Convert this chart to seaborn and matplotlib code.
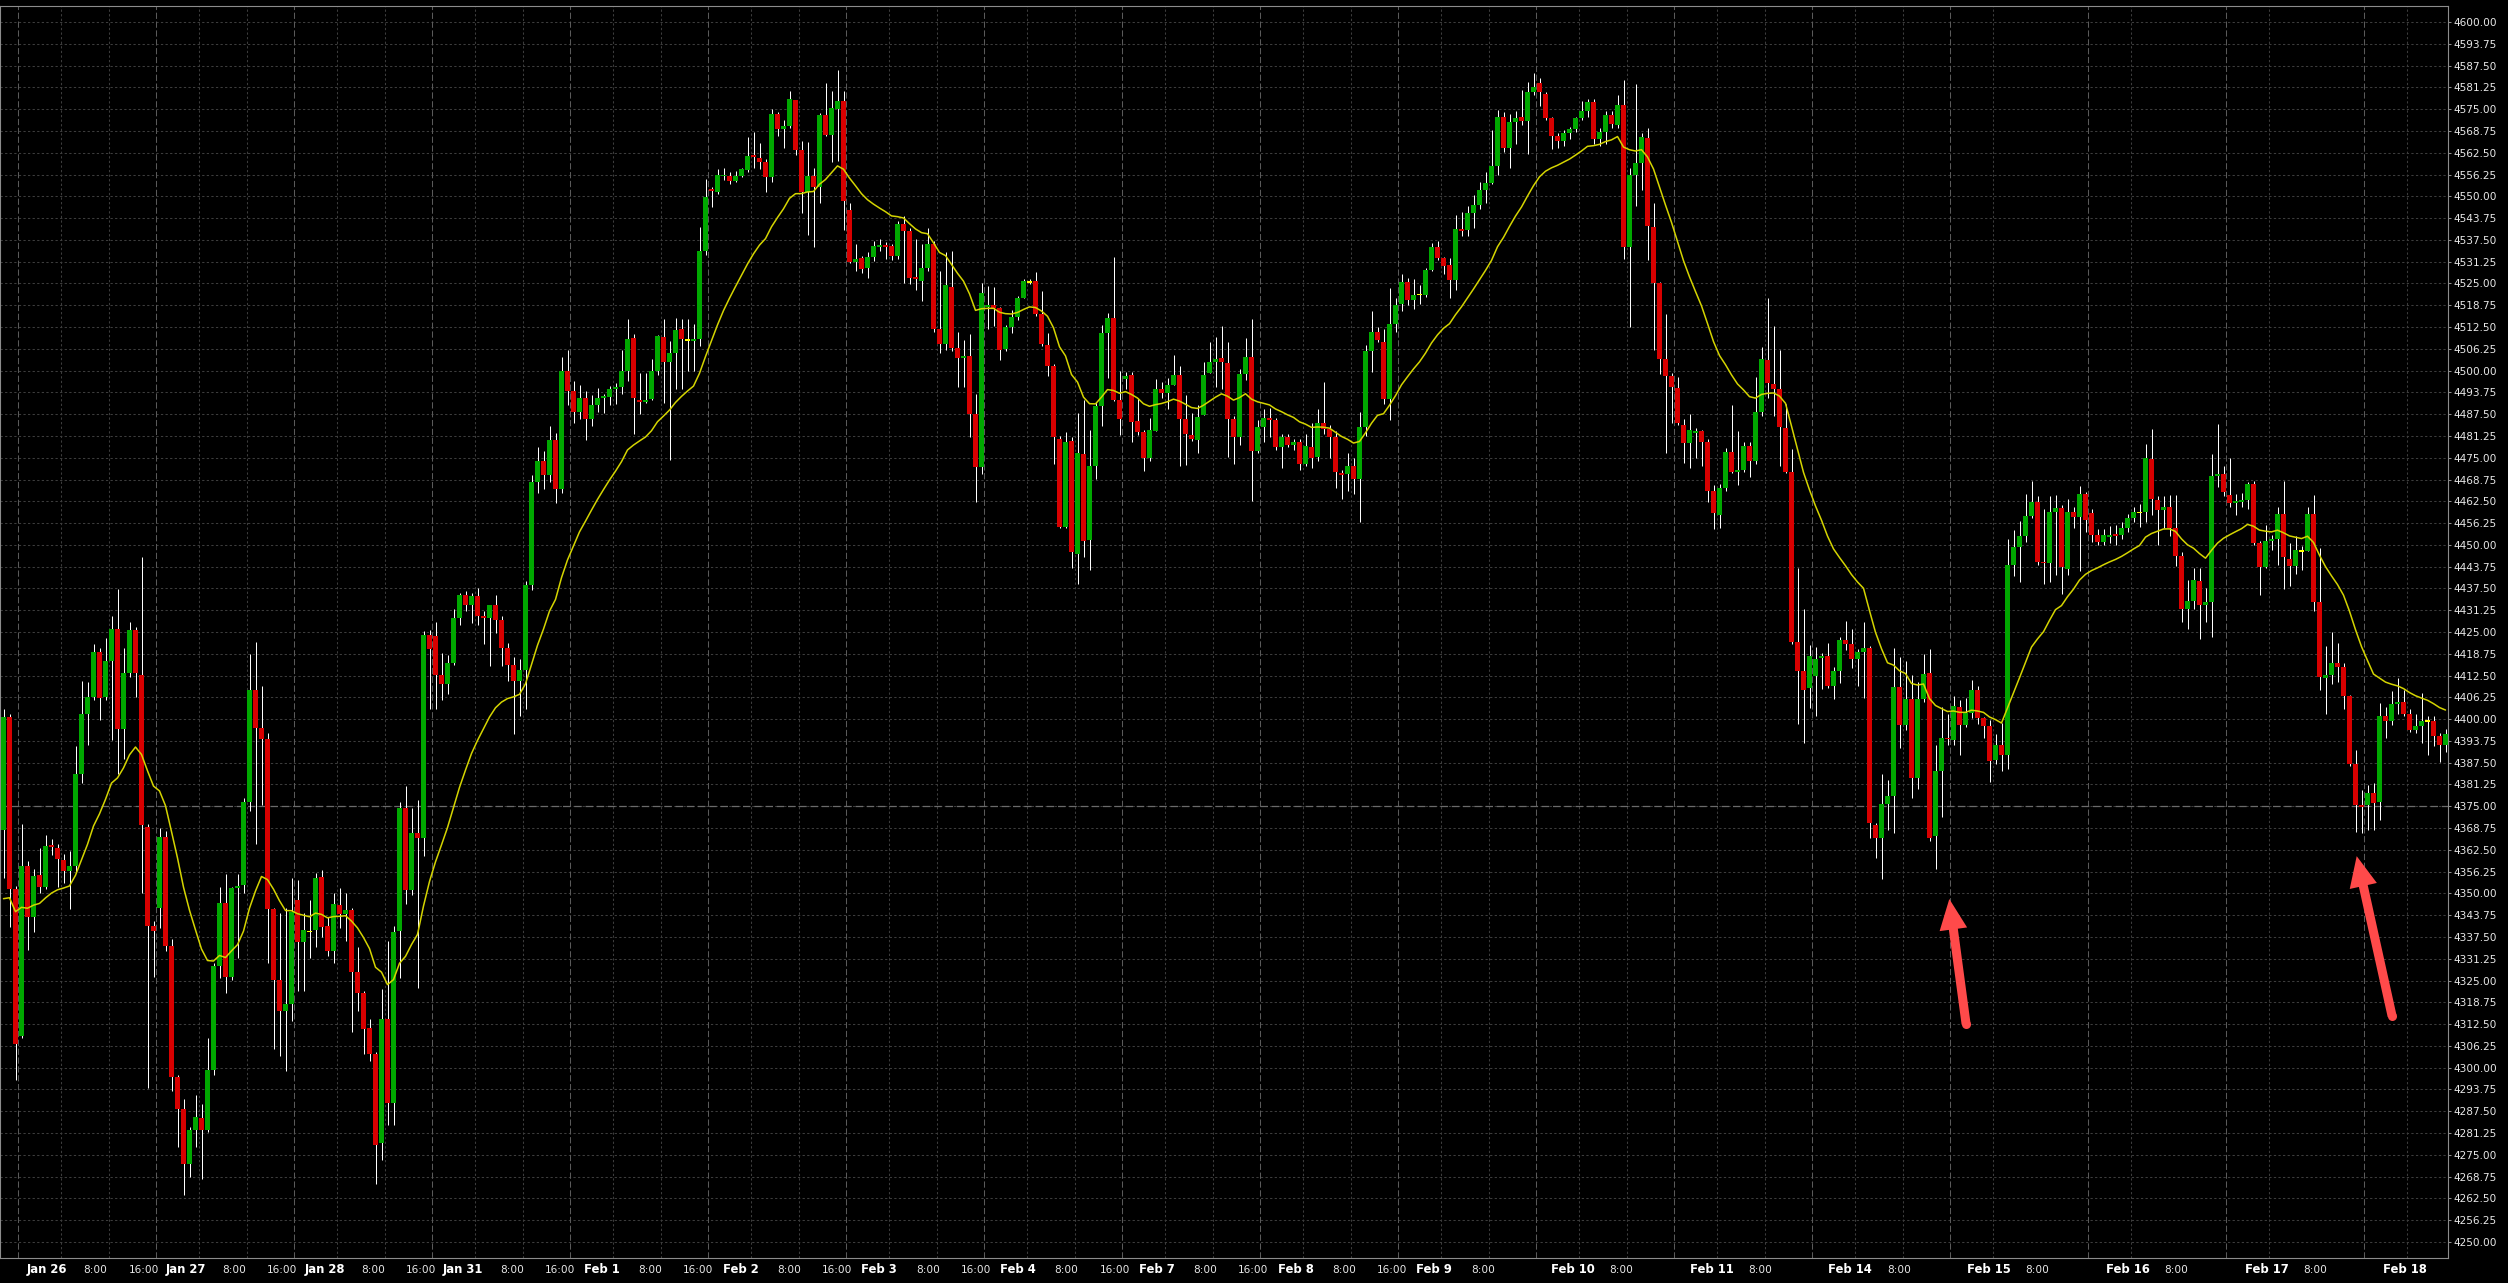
import matplotlib
matplotlib.use("Agg")
import matplotlib.pyplot as plt
import numpy as np
import pandas as pd
import seaborn as sns
from matplotlib.patches import FancyArrowPatch

# hourly candles (open / high / low / close)
opens = [
    4368.3, 4400.7, 4351.3, 4309.2, 4357.9, 4343.2, 4355.4, 4351.9, 4363.7, 4363.1,
    4359.6, 4356.3, 4357.9, 4384.2, 4401.6, 4406.4, 4419.3, 4406.4, 4416.6, 4425.9,
    4397.1, 4413.2, 4425.5, 4412.8, 4369.1, 4340.7, 4345.7, 4366.2, 4334.8, 4297.2,
    4288.2, 4272.3, 4282.2, 4285.6, 4282.0, 4299.4, 4329.3, 4347.2, 4326.0, 4351.6,
    4352.5, 4376.2, 4408.4, 4397.5, 4394.4, 4345.4, 4325.2, 4316.4, 4318.3, 4348.2,
    4336.0, 4339.1, 4339.5, 4354.6, 4340.7, 4333.5, 4346.7, 4344.2, 4345.3, 4327.4,
    4321.4, 4311.5, 4304.0, 4278.3, 4314.0, 4290.0, 4339.2, 4374.5, 4350.9, 4367.2,
    4365.8, 4424.0, 4423.8, 4412.6, 4410.1, 4416.0, 4429.0, 4435.5, 4432.7, 4435.2,
    4429.5, 4429.0, 4432.7, 4428.4, 4420.3, 4415.6, 4411.0, 4414.1, 4438.6, 4468.0,
    4474.0, 4470.0, 4480.0, 4466.0, 4500.0, 4494.0, 4488.0, 4492.0, 4486.0, 4490.0,
    4492.2, 4492.4, 4494.7, 4495.2, 4499.8, 4509.4, 4491.7, 4491.0, 4491.9, 4499.8,
    4509.6, 4502.4, 4505.0, 4511.8, 4508.8, 4508.6, 4509.1, 4534.2, 4552.0, 4551.1,
    4555.7, 4555.9, 4554.5, 4555.9, 4557.5, 4561.8, 4561.0, 4559.8, 4555.5, 4573.5,
    4569.2, 4570.2, 4577.6, 4563.4, 4551.1, 4555.7, 4552.6, 4573.3, 4567.6, 4575.0,
    4577.4, 4546.0, 4531.1, 4532.4, 4529.3, 4532.6, 4535.4, 4536.0, 4535.7, 4532.9,
    4542.1, 4540.1, 4526.8, 4525.6, 4529.3, 4536.2, 4512.0, 4507.5, 4524.1, 4506.5,
    4503.7, 4504.2, 4487.4, 4472.2, 4518.3, 4518.8, 4518.0, 4506.3, 4512.5, 4515.3,
    4520.9, 4525.4, 4525.6, 4516.2, 4507.3, 4501.2, 4480.4, 4455.1, 4479.7, 4447.5,
    4476.0, 4451.4, 4472.5, 4489.9, 4510.9, 4515.1, 4491.7, 4497.5, 4498.7, 4485.5,
    4482.4, 4474.8, 4482.7, 4494.7, 4493.7, 4496.0, 4498.7, 4486.0, 4481.6, 4480.2,
    4487.2, 4499.3, 4502.4, 4503.6, 4502.2, 4486.0, 4480.8, 4499.0, 4503.9, 4477.0,
    4483.9, 4486.5, 4485.7, 4478.0, 4480.8, 4478.7, 4479.5, 4473.3, 4478.0, 4475.2,
    4485.0, 4483.1, 4480.8, 4470.5, 4470.2, 4472.5, 4469.0, 4483.9, 4505.6, 4511.1,
    4508.3, 4491.9, 4513.4, 4519.2, 4525.4, 4520.3, 4521.8, 4521.8, 4528.8, 4535.5,
    4532.4, 4530.3, 4525.9, 4540.5, 4540.2, 4545.1, 4547.6, 4551.7, 4553.8, 4558.8,
    4572.8, 4563.8, 4571.3, 4572.8, 4571.6, 4579.8, 4582.5, 4579.3, 4572.4, 4567.4,
    4565.8, 4568.2, 4569.2, 4572.5, 4574.4, 4577.0, 4566.3, 4568.5, 4573.3, 4570.5,
    4576.2, 4535.5, 4556.0, 4559.6, 4566.6, 4541.2, 4525.1, 4503.3, 4498.5, 4495.1,
    4484.5, 4479.2, 4482.3, 4482.6, 4479.5, 4465.5, 4458.5, 4466.3, 4476.7, 4471.0,
    4471.4, 4478.3, 4474.1, 4488.1, 4503.1, 4496.1, 4494.8, 4483.4, 4471.0, 4422.0,
    4413.7, 4408.8, 4412.3, 4417.6, 4418.1, 4409.5, 4413.9, 4422.8, 4421.5, 4417.3,
    4419.2, 4420.4, 4369.6, 4365.8, 4375.6, 4378.0, 4409.1, 4398.3, 4405.7, 4383.0,
    4405.7, 4413.2, 4366.4, 4385.0, 4394.7, 4394.0, 4403.5, 4398.3, 4401.9, 4408.4,
    4400.2, 4398.1, 4388.3, 4392.7, 4389.6, 4444.2, 4449.4, 4452.4, 4458.3, 4462.4,
    4445.2, 4444.9, 4459.3, 4460.6, 4443.2, 4459.3, 4458.0, 4464.6, 4459.0, 4452.8,
    4450.8, 4452.4, 4453.1, 4452.8, 4454.9, 4457.6, 4459.3, 4459.3, 4474.7, 4462.9,
    4460.0, 4460.8, 4454.9, 4446.7, 4431.6, 4433.9, 4439.5, 4432.7, 4433.7, 4469.8,
    4470.2, 4464.4, 4462.1, 4462.4, 4462.9, 4467.5, 4450.4, 4443.6, 4451.1, 4451.8,
    4458.8, 4446.0, 4443.9, 4448.3, 4448.3, 4458.8, 4433.7, 4411.9, 4412.7, 4416.0,
    4414.9, 4406.5, 4387.1, 4375.3, 4375.3, 4378.9, 4376.3, 4400.9, 4399.6, 4404.3,
    4405.0, 4401.4, 4396.8, 4398.1, 4399.4, 4399.6, 4395.3, 4392.7,
]
highs = [
    4402.9, 4401.6, 4352.0, 4369.9, 4359.4, 4356.9, 4363.1, 4366.8, 4365.6, 4364.3,
    4361.2, 4362.1, 4392.3, 4411.0, 4410.6, 4421.5, 4420.3, 4423.4, 4429.6, 4437.3,
    4420.3, 4427.8, 4426.5, 4446.4, 4369.9, 4342.0, 4368.7, 4368.0, 4337.0, 4297.8,
    4291.0, 4282.9, 4292.2, 4289.7, 4308.6, 4330.1, 4351.9, 4355.6, 4351.9, 4355.6,
    4377.4, 4418.8, 4422.2, 4409.4, 4396.0, 4345.7, 4344.4, 4345.7, 4354.4, 4353.8,
    4344.4, 4348.2, 4355.9, 4356.6, 4343.2, 4350.0, 4351.6, 4350.0, 4345.9, 4334.5,
    4322.0, 4314.0, 4304.6, 4322.7, 4336.4, 4340.7, 4376.2, 4380.8, 4374.5, 4376.8,
    4425.3, 4425.5, 4427.8, 4419.1, 4418.4, 4431.7, 4436.2, 4436.7, 4436.2, 4437.7,
    4430.9, 4432.7, 4435.5, 4429.6, 4421.9, 4417.8, 4417.2, 4439.6, 4470.0, 4478.0,
    4477.0, 4484.0, 4482.0, 4504.0, 4506.0, 4497.0, 4496.0, 4494.0, 4493.0, 4495.0,
    4493.2, 4495.7, 4496.5, 4506.0, 4514.7, 4510.6, 4499.3, 4499.3, 4503.4, 4510.1,
    4514.9, 4508.6, 4515.2, 4514.7, 4514.9, 4513.5, 4541.1, 4554.9, 4552.6, 4557.7,
    4558.2, 4556.9, 4557.2, 4558.2, 4567.0, 4568.5, 4565.4, 4560.8, 4575.0, 4574.3,
    4571.9, 4580.3, 4577.6, 4565.9, 4565.7, 4558.2, 4573.9, 4582.5, 4580.1, 4586.2,
    4580.3, 4548.2, 4536.2, 4532.9, 4533.9, 4537.2, 4537.8, 4537.0, 4536.4, 4542.9,
    4544.4, 4540.8, 4537.8, 4536.2, 4540.8, 4537.2, 4528.5, 4534.0, 4534.4, 4511.0,
    4508.8, 4510.6, 4493.2, 4525.0, 4524.4, 4524.1, 4518.3, 4513.2, 4517.3, 4521.4,
    4526.2, 4526.3, 4528.2, 4522.9, 4510.8, 4501.9, 4481.1, 4482.4, 4480.9, 4487.9,
    4491.7, 4482.9, 4491.1, 4513.2, 4516.5, 4532.6, 4499.8, 4499.5, 4499.5, 4492.1,
    4482.9, 4486.5, 4497.5, 4496.8, 4497.8, 4504.5, 4501.4, 4493.0, 4487.8, 4490.1,
    4502.4, 4508.1, 4509.6, 4512.9, 4508.1, 4487.0, 4500.5, 4509.4, 4514.8, 4485.7,
    4488.9, 4489.2, 4486.5, 4481.9, 4481.9, 4480.3, 4480.3, 4481.9, 4485.0, 4488.9,
    4496.6, 4484.5, 4482.6, 4471.4, 4476.4, 4474.9, 4488.1, 4507.2, 4517.1, 4512.5,
    4511.9, 4523.8, 4520.7, 4527.7, 4526.5, 4526.2, 4524.6, 4529.3, 4536.7, 4537.1,
    4532.7, 4532.4, 4544.5, 4545.6, 4547.2, 4550.3, 4554.2, 4557.0, 4568.9, 4574.7,
    4574.1, 4573.6, 4574.4, 4580.6, 4582.9, 4585.3, 4584.0, 4579.8, 4572.8, 4568.2,
    4568.9, 4570.0, 4572.8, 4577.2, 4577.8, 4577.8, 4569.7, 4574.4, 4574.4, 4579.0,
    4583.4, 4558.0, 4582.2, 4568.2, 4569.7, 4548.2, 4525.4, 4516.1, 4499.4, 4498.2,
    4486.0, 4487.6, 4483.4, 4482.9, 4480.3, 4467.1, 4467.4, 4477.9, 4490.1, 4482.6,
    4479.5, 4479.5, 4498.2, 4506.7, 4520.7, 4512.9, 4505.9, 4490.4, 4477.6, 4443.4,
    4431.6, 4421.2, 4420.7, 4418.9, 4421.9, 4415.0, 4423.5, 4428.2, 4426.0, 4420.0,
    4428.0, 4421.0, 4370.1, 4384.4, 4382.4, 4420.4, 4417.8, 4416.6, 4412.7, 4410.6,
    4418.8, 4420.1, 4392.7, 4403.5, 4401.4, 4406.5, 4405.5, 4406.0, 4411.1, 4409.4,
    4400.6, 4399.8, 4395.8, 4398.9, 4451.8, 4454.2, 4456.9, 4464.7, 4468.2, 4464.1,
    4460.4, 4463.9, 4464.4, 4461.3, 4463.1, 4460.8, 4467.0, 4465.1, 4460.3, 4454.5,
    4454.5, 4455.5, 4455.7, 4456.5, 4458.8, 4460.8, 4461.8, 4478.8, 4483.2, 4463.9,
    4463.9, 4464.4, 4464.4, 4448.0, 4439.8, 4443.4, 4443.4, 4437.7, 4476.2, 4484.6,
    4472.6, 4474.9, 4464.7, 4464.9, 4468.0, 4468.2, 4451.1, 4455.7, 4452.8, 4460.8,
    4468.2, 4450.6, 4452.6, 4449.6, 4461.0, 4464.4, 4449.0, 4421.1, 4424.9, 4421.9,
    4416.2, 4407.0, 4391.1, 4379.6, 4381.1, 4381.7, 4404.5, 4403.5, 4408.1, 4411.8,
    4408.4, 4402.9, 4401.4, 4407.6, 4401.0, 4400.9, 4395.9, 4397.2,
]
lows = [
    4354.4, 4340.3, 4296.5, 4308.6, 4333.9, 4338.8, 4350.0, 4351.3, 4361.0, 4351.9,
    4353.1, 4345.4, 4356.0, 4381.7, 4392.7, 4405.4, 4399.8, 4405.6, 4394.0, 4384.2,
    4388.6, 4412.0, 4406.4, 4350.0, 4294.3, 4326.0, 4340.0, 4333.5, 4293.2, 4277.3,
    4263.6, 4268.6, 4277.3, 4268.0, 4281.6, 4297.8, 4325.8, 4321.4, 4325.1, 4331.4,
    4350.0, 4373.7, 4364.3, 4375.5, 4330.1, 4305.3, 4303.4, 4299.0, 4313.4, 4322.0,
    4322.0, 4331.4, 4334.5, 4337.6, 4332.0, 4330.1, 4340.0, 4336.4, 4310.2, 4316.4,
    4304.0, 4302.0, 4266.7, 4273.5, 4283.5, 4283.5, 4325.8, 4346.9, 4349.6, 4322.9,
    4360.8, 4402.9, 4402.9, 4405.4, 4407.2, 4415.6, 4427.1, 4430.9, 4427.5, 4427.1,
    4421.5, 4415.3, 4424.7, 4415.3, 4411.0, 4395.7, 4401.0, 4402.9, 4437.0, 4465.0,
    4466.0, 4468.0, 4462.0, 4465.0, 4490.0, 4485.0, 4486.0, 4480.0, 4484.0, 4488.0,
    4487.9, 4490.1, 4490.5, 4493.2, 4497.0, 4481.9, 4487.6, 4490.6, 4491.7, 4498.8,
    4490.6, 4474.3, 4494.7, 4494.7, 4499.8, 4499.8, 4507.0, 4533.2, 4547.0, 4550.6,
    4554.7, 4553.5, 4554.2, 4555.5, 4556.9, 4558.0, 4557.7, 4551.1, 4554.2, 4567.2,
    4563.9, 4569.5, 4561.8, 4545.2, 4538.8, 4535.4, 4548.0, 4567.2, 4559.8, 4560.0,
    4540.3, 4530.9, 4528.5, 4528.0, 4526.5, 4531.3, 4534.2, 4532.1, 4531.6, 4532.1,
    4525.0, 4524.7, 4523.1, 4520.0, 4528.5, 4511.1, 4505.0, 4506.0, 4505.5, 4495.2,
    4495.4, 4480.9, 4462.3, 4470.4, 4511.8, 4512.7, 4502.9, 4505.5, 4510.8, 4514.5,
    4520.7, 4524.8, 4515.7, 4507.0, 4498.3, 4473.2, 4454.8, 4454.8, 4443.5, 4438.9,
    4446.6, 4442.8, 4468.8, 4484.0, 4497.8, 4491.2, 4481.4, 4494.7, 4479.4, 4481.4,
    4471.2, 4474.2, 4482.7, 4492.2, 4489.1, 4495.9, 4472.7, 4472.9, 4479.9, 4476.3,
    4487.2, 4499.3, 4495.2, 4494.7, 4475.3, 4473.2, 4478.7, 4497.4, 4462.7, 4476.4,
    4479.5, 4480.8, 4477.2, 4472.0, 4478.0, 4477.2, 4471.4, 4472.5, 4472.0, 4474.1,
    4481.9, 4474.9, 4466.3, 4463.2, 4465.5, 4464.7, 4456.5, 4481.1, 4499.7, 4508.3,
    4490.4, 4485.7, 4511.0, 4517.2, 4518.7, 4517.6, 4519.2, 4521.2, 4528.5, 4531.6,
    4527.7, 4520.7, 4523.1, 4538.6, 4538.6, 4541.0, 4546.4, 4548.2, 4553.4, 4556.0,
    4562.7, 4558.0, 4565.0, 4570.5, 4562.2, 4579.0, 4575.9, 4572.0, 4563.5, 4563.8,
    4564.3, 4566.3, 4568.5, 4572.0, 4572.8, 4565.0, 4564.3, 4565.0, 4569.7, 4569.7,
    4532.1, 4512.5, 4547.2, 4551.8, 4531.6, 4505.9, 4499.0, 4476.4, 4485.0, 4484.5,
    4473.6, 4472.0, 4474.9, 4472.5, 4462.4, 4454.6, 4454.9, 4465.5, 4470.5, 4467.1,
    4471.0, 4469.4, 4473.3, 4487.0, 4492.0, 4487.0, 4472.5, 4470.5, 4421.5, 4398.7,
    4393.2, 4403.3, 4401.0, 4408.6, 4408.8, 4405.7, 4410.3, 4419.7, 4414.7, 4409.6,
    4406.0, 4366.0, 4360.3, 4354.0, 4368.1, 4367.4, 4391.7, 4397.0, 4377.4, 4380.1,
    4404.8, 4365.1, 4357.1, 4372.0, 4392.7, 4392.7, 4389.6, 4397.7, 4400.4, 4398.5,
    4394.7, 4381.9, 4387.0, 4385.0, 4385.8, 4441.2, 4439.3, 4450.8, 4457.6, 4444.2,
    4438.8, 4439.3, 4441.4, 4436.0, 4441.4, 4454.7, 4442.4, 4453.7, 4450.8, 4450.1,
    4450.1, 4450.4, 4450.1, 4451.8, 4453.7, 4456.7, 4455.2, 4456.5, 4458.6, 4450.1,
    4454.7, 4452.6, 4443.9, 4428.0, 4426.0, 4431.6, 4422.9, 4428.0, 4423.7, 4466.5,
    4463.9, 4460.8, 4458.6, 4460.8, 4460.3, 4450.1, 4435.7, 4443.4, 4448.5, 4444.2,
    4437.3, 4438.3, 4441.6, 4442.9, 4448.1, 4431.1, 4408.4, 4401.4, 4410.1, 4410.6,
    4402.9, 4386.6, 4367.7, 4367.4, 4368.3, 4368.3, 4371.0, 4394.5, 4398.3, 4401.4,
    4400.9, 4396.3, 4396.1, 4393.2, 4389.6, 4392.4, 4387.6, 4390.6,
]
closes = [
    4400.7, 4351.3, 4306.8, 4357.9, 4343.2, 4355.0, 4351.9, 4363.7, 4363.3, 4360.0,
    4356.3, 4357.9, 4384.2, 4401.6, 4406.4, 4419.3, 4406.0, 4416.6, 4425.9, 4397.3,
    4413.2, 4425.5, 4413.2, 4369.6, 4340.7, 4339.1, 4366.2, 4334.8, 4297.2, 4288.2,
    4272.3, 4282.2, 4286.0, 4282.0, 4299.4, 4329.3, 4347.3, 4326.0, 4351.6, 4352.1,
    4376.2, 4408.4, 4397.5, 4394.4, 4345.4, 4325.2, 4316.4, 4318.3, 4344.7, 4336.0,
    4339.5, 4339.1, 4354.4, 4340.5, 4333.5, 4346.9, 4344.2, 4345.3, 4327.4, 4321.4,
    4311.2, 4304.0, 4277.9, 4314.0, 4290.0, 4338.8, 4374.5, 4350.9, 4367.4, 4365.8,
    4424.0, 4420.1, 4412.8, 4410.1, 4416.0, 4429.0, 4435.5, 4432.7, 4435.2, 4429.6,
    4429.0, 4432.7, 4428.4, 4420.3, 4415.6, 4411.0, 4414.1, 4438.6, 4468.0, 4474.0,
    4470.0, 4480.0, 4466.0, 4500.0, 4494.0, 4488.0, 4492.0, 4486.0, 4490.0, 4492.2,
    4492.7, 4494.7, 4495.2, 4499.8, 4509.1, 4492.0, 4491.0, 4491.7, 4499.8, 4509.9,
    4502.4, 4505.0, 4511.6, 4509.1, 4508.8, 4509.0, 4534.2, 4549.7, 4551.6, 4556.2,
    4556.2, 4554.5, 4555.9, 4557.7, 4561.6, 4561.2, 4559.8, 4555.5, 4573.5, 4569.2,
    4570.2, 4577.9, 4563.4, 4551.1, 4555.7, 4552.6, 4573.3, 4567.6, 4575.2, 4577.4,
    4548.7, 4531.1, 4532.1, 4529.1, 4532.6, 4535.7, 4536.0, 4535.6, 4532.9, 4542.1,
    4540.1, 4526.7, 4526.3, 4529.5, 4536.2, 4512.0, 4507.5, 4524.5, 4506.5, 4503.7,
    4504.2, 4487.4, 4472.2, 4522.3, 4518.8, 4518.0, 4506.0, 4512.5, 4515.3, 4520.9,
    4525.6, 4525.4, 4516.2, 4507.7, 4501.2, 4480.9, 4455.1, 4479.4, 4447.9, 4476.3,
    4451.2, 4472.7, 4489.9, 4510.9, 4515.1, 4491.7, 4486.0, 4498.5, 4485.3, 4482.4,
    4474.8, 4482.9, 4494.7, 4493.7, 4496.0, 4498.7, 4486.0, 4481.7, 4480.4, 4486.7,
    4498.8, 4502.4, 4503.2, 4502.4, 4486.2, 4480.9, 4499.0, 4503.9, 4477.0, 4483.9,
    4486.5, 4485.7, 4478.0, 4480.8, 4478.7, 4479.5, 4473.3, 4478.3, 4474.9, 4485.0,
    4483.1, 4480.8, 4471.0, 4469.9, 4472.5, 4469.0, 4483.9, 4505.6, 4511.1, 4508.8,
    4491.9, 4513.4, 4518.7, 4525.4, 4520.3, 4521.8, 4521.8, 4528.8, 4535.5, 4532.4,
    4530.1, 4525.9, 4540.5, 4539.9, 4545.1, 4547.6, 4551.7, 4553.8, 4558.8, 4572.8,
    4563.8, 4571.3, 4572.5, 4571.6, 4579.8, 4581.4, 4579.8, 4572.4, 4567.4, 4565.8,
    4568.2, 4569.2, 4572.5, 4574.4, 4577.0, 4566.3, 4568.5, 4573.3, 4570.8, 4576.2,
    4535.5, 4556.0, 4559.6, 4566.9, 4541.4, 4525.1, 4503.3, 4498.5, 4495.4, 4485.0,
    4479.1, 4482.9, 4482.6, 4479.5, 4465.5, 4459.0, 4466.3, 4476.7, 4471.0, 4471.4,
    4478.3, 4474.1, 4488.1, 4503.3, 4496.3, 4494.8, 4483.9, 4471.0, 4422.0, 4413.7,
    4408.3, 4418.1, 4417.3, 4418.1, 4409.5, 4413.9, 4422.8, 4421.7, 4417.3, 4419.2,
    4420.4, 4370.1, 4365.8, 4375.6, 4377.9, 4409.1, 4398.3, 4405.7, 4383.0, 4405.7,
    4412.9, 4366.0, 4385.2, 4394.7, 4394.2, 4403.7, 4398.3, 4401.9, 4408.4, 4400.2,
    4398.1, 4388.1, 4392.7, 4389.6, 4444.2, 4449.4, 4452.4, 4458.3, 4462.4, 4445.2,
    4444.7, 4459.3, 4460.6, 4443.6, 4459.3, 4458.0, 4464.6, 4457.2, 4452.8, 4450.8,
    4452.8, 4452.8, 4452.6, 4454.9, 4457.6, 4459.3, 4459.3, 4475.0, 4463.1, 4460.0,
    4460.8, 4454.9, 4446.7, 4431.6, 4433.9, 4439.8, 4432.7, 4433.7, 4469.8, 4470.2,
    4465.1, 4462.1, 4462.4, 4462.9, 4467.5, 4450.4, 4443.6, 4451.1, 4451.8, 4458.8,
    4446.5, 4443.9, 4448.5, 4448.3, 4458.8, 4433.7, 4412.2, 4412.7, 4416.0, 4414.9,
    4406.7, 4387.1, 4375.3, 4374.8, 4378.9, 4376.0, 4400.9, 4399.6, 4404.3, 4405.0,
    4401.4, 4396.8, 4398.1, 4399.6, 4399.4, 4395.3, 4392.7, 4395.8,
]

# moving average (EMA 20) and its value just before the first candle
ema_span = 20
ema_seed = 4343.0

# x axis: trading days, 23 hourly bars each
day_names = ["Jan 26", "Jan 27", "Jan 28", "Jan 31", "Feb 1", "Feb 2", "Feb 3",
             "Feb 4", "Feb 7", "Feb 8", "Feb 9", "Feb 10", "Feb 11", "Feb 14",
             "Feb 15", "Feb 16", "Feb 17", "Feb 18"]
days_with_16h = 10          # "16:00" label shown for the first 10 days only
days_without_late_grid = ["Feb 15", "Feb 16", "Feb 17"]

# annotation arrows (tail -> tip, in bar index / price)
arrow_tails = [(327.1, 4312.5), (398.1, 4314.8)]
arrow_tips = [(324.3, 4348.4), (392.2, 4360.7)]

# ---------------------------------------------------------------------------
df = pd.DataFrame({"open": opens, "high": highs, "low": lows, "close": closes})
df["bar"] = np.arange(len(df))
ema = pd.Series([ema_seed] + closes).ewm(span=ema_span, adjust=False).mean().iloc[1:]
df["ema"] = ema.values

sns.set_theme(style="dark", rc={"axes.facecolor": "black", "figure.facecolor": "black"})
plt.rcParams["font.family"] = ["DejaVu Sans"]

W, H = 2508, 1283
fig = plt.figure(figsize=(W / 100, H / 100), dpi=100)
ax = fig.add_axes([0, 25 / H, 2448 / W, (1258 - 6) / H])
ax.set_facecolor("black")

bars_per_day = 23
day0 = 2.42                       # first day boundary (bar units)
grid_c = "#3c3c3c"
major_c = "#5a5a5a"

# horizontal grid
yt = np.arange(4250, 4600.01, 6.25)
for v in yt:
    ax.axhline(v, color=grid_c, lw=0.75, ls=(0, (2.2, 2.2)), zorder=0)
ax.axhline(4375, color="#6a6a6a", lw=0.9, ls=(0, (6, 3)), zorder=0.5)

# vertical grid
for k, d in enumerate(day_names):
    start = day0 + bars_per_day * k
    ax.axvline(start, color=major_c, lw=0.75, ls=(0, (6, 2.5)), zorder=0)
    ax.axvline(start + 7.17, color=grid_c, lw=0.75, ls=(0, (2.2, 2.2)), zorder=0)
    if d not in days_without_late_grid:
        ax.axvline(start + 15.17, color=grid_c, lw=0.75, ls=(0, (2.2, 2.2)), zorder=0)

# candles
green, red, doji = "#00a800", "#d80000", "#ffff00"
o = df["open"].values
c = df["close"].values
col = np.where(c > o, green, np.where(c < o, red, doji))
bottom = np.minimum(o, c)
height = np.abs(c - o)
min_h = 0.5
bottom = np.where(height < min_h, (o + c) / 2 - min_h / 2, bottom)
height = np.maximum(height, min_h)
ax.vlines(df["bar"], df["low"], df["high"], colors="white", lw=0.72, zorder=2)
ax.bar(df["bar"], height, bottom=bottom, width=0.82, color=col, linewidth=0, zorder=3)

# moving average
sns.lineplot(x=df["bar"], y=df["ema"], ax=ax, color="#d4d400", lw=1.1, zorder=4)

# arrows
for tail, tip in zip(arrow_tails, arrow_tips):
    arr = FancyArrowPatch(tail, tip, arrowstyle="simple,head_length=22,head_width=20,tail_width=6.5",
                          mutation_scale=1, color="#ff4a4a", lw=0, shrinkA=0, shrinkB=0, zorder=6)
    ax.add_patch(arr)
    ax.plot([tail[0]], [tail[1]], "o", ms=6.5, color="#ff4a4a", mec="none", zorder=6)

# limits (bar i centered at 3.5 + 6*i px)
ax.set_xlim(-3.5 / 6, (2448 - 3.5) / 6)
ax.set_ylim(4250 - 16 / 3.4857, 4600 + 16 / 3.4857)
ax.set_xlabel("")
ax.set_ylabel("")

# y axis on the right
ax.yaxis.tick_right()
ax.set_yticks(yt)
ax.set_yticklabels([f"{v:.2f}" for v in yt])
ax.tick_params(axis="y", which="both", right=True, left=False, length=2.5, width=0.75,
               color="#909090", labelcolor="#e8e8e8", labelsize=7.6, pad=1.5)

# x labels
pos, labs, kinds = [], [], []
for k, d in enumerate(day_names):
    base = 7.25 + 23.12 * k
    pos.append(base); labs.append(d); kinds.append("day")
    if k < len(day_names) - 1:
        pos.append(base + 8.1); labs.append("8:00"); kinds.append("hour")
    if k < days_with_16h:
        pos.append(base + 16.1); labs.append("16:00"); kinds.append("hour")
ax.set_xticks(pos)
ax.set_xticklabels(labs)
ax.tick_params(axis="x", length=0, pad=8.6, labelcolor="white")
for t, kind in zip(ax.get_xticklabels(), kinds):
    t.set_va("center")
    if kind == "day":
        t.set_fontweight("bold")
        t.set_fontsize(8.4)
    else:
        t.set_fontsize(7.6)
        t.set_color("#e8e8e8")

for s in ax.spines.values():
    s.set_visible(True)
    s.set_color("#8c8c8c")
    s.set_linewidth(0.8)
ax.grid(False)

fig.savefig("out.png", dpi=100, facecolor="black")
